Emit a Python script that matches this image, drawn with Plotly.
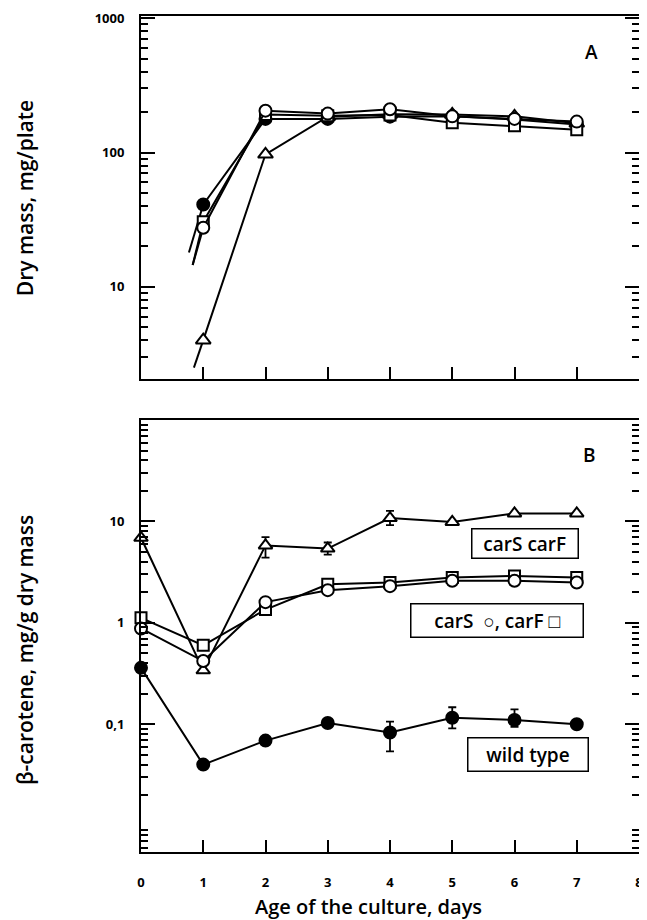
import plotly.graph_objects as go

# ---------------- data ----------------
days_A = [1, 2, 3, 4, 5, 6, 7]
wt_A = [41, 178, 178, 185, 186, 176, 162]
carS_A = [27.5, 205, 195, 210, 186, 178, 170]
carF_A = [30.5, 192, 188, 190, 167, 158, 148]
carSF_A = [4.0, 97, 185, 193, 192, 186, 165]
# short line stubs leaving the day-1 points towards day 0
stub_x = {"wt": 0.77, "carS": 0.83, "carF": 0.83, "carSF": 0.85}
stub_y = {"wt": 18, "carS": 14.5, "carF": 14.5, "carSF": 2.5}

days_B = [0, 1, 2, 3, 4, 5, 6, 7]
wt_B = [0.36, 0.040, 0.069, 0.103, 0.083, 0.116, 0.110, 0.100]
wt_B_plus = [0, 0, 0, 0, 0.023, 0.031, 0.030, 0]
wt_B_minus = [0, 0, 0, 0, 0.029, 0.025, 0.016, 0]
carS_B = [0.88, 0.42, 1.6, 2.1, 2.3, 2.6, 2.6, 2.5]
carF_B = [1.12, 0.60, 1.35, 2.4, 2.5, 2.8, 2.9, 2.8]
carSF_B = [6.9, 0.34, 5.8, 5.4, 10.8, 9.9, 12.0, 12.0]
carSF_B_plus = [0, 0, 1.2, 0.8, 1.9, 0, 0, 0]
carSF_B_minus = [0, 0, 1.4, 0.7, 1.6, 0, 0, 0]

x_ticks = [0, 1, 2, 3, 4, 5, 6, 7, 8]
x_ticktext = ["0", "1", "2", "3", "4", "5", "6", "7", "8"]
yA_ticks = [10, 100, 1000]
yA_ticktext = ["10", "100", "1000"]
yB_ticks = [0.1, 1, 10]
yB_ticktext = ["0,1", "1", "10"]

FONT = "Open Sans"
BLACK = "black"

fig = go.Figure()

def add_series(x, y, xa, ya, symbol, filled, size, err_p=None, err_m=None):
    kw = {}
    if err_p is not None:
        kw["error_y"] = dict(type="data", symmetric=False, array=err_p, arrayminus=err_m,
                             color=BLACK, thickness=1.8, width=4)
    fig.add_trace(go.Scatter(
        x=x, y=y, xaxis=xa, yaxis=ya, mode="lines+markers",
        line=dict(color=BLACK, width=2),
        marker=dict(symbol=symbol, size=size, color=BLACK if filled else "white",
                    line=dict(color=BLACK, width=2)),
        showlegend=False, cliponaxis=False, **kw))

def add_stub(key, y1, xa, ya):
    fig.add_trace(go.Scatter(
        x=[stub_x[key], 1], y=[stub_y[key], y1], xaxis=xa, yaxis=ya, mode="lines",
        line=dict(color=BLACK, width=2), showlegend=False))

# Panel A
add_stub("carSF", carSF_A[0], "x", "y")
add_stub("wt", wt_A[0], "x", "y")
add_stub("carS", carS_A[0], "x", "y")
add_stub("carF", carF_A[0], "x", "y")
add_series(days_A, carSF_A, "x", "y", "triangle-up", False, 13)
add_series(days_A, wt_A, "x", "y", "circle", True, 12)
add_series(days_A, carF_A, "x", "y", "square", False, 11)
add_series(days_A, carS_A, "x", "y", "circle", False, 12)

# Panel B
add_series(days_B, wt_B, "x2", "y2", "circle", True, 12, wt_B_plus, wt_B_minus)
add_series(days_B, carSF_B, "x2", "y2", "triangle-up", False, 12, carSF_B_plus, carSF_B_minus)
add_series(days_B, carF_B, "x2", "y2", "square", False, 11)
add_series(days_B, carS_B, "x2", "y2", "circle", False, 12)

minorA = [m * 10 ** e for e in range(0, 3) for m in range(2, 10)]
minorB = [m * 10 ** e for e in range(-3, 2) for m in range(2, 10)]

tickfont = dict(family=FONT, size=13, color=BLACK, weight="bold")
xax = dict(range=[0, 8], tickvals=x_ticks, ticktext=x_ticktext, ticks="inside", ticklen=12,
           tickwidth=2, tickcolor=BLACK, showline=True, linecolor=BLACK, linewidth=2,
           mirror=True, showgrid=False, zeroline=False, automargin=False)
yax = dict(type="log", ticks="inside", ticklen=14, tickwidth=2, tickcolor=BLACK,
           showline=True, linecolor=BLACK, linewidth=2, mirror="allticks",
           showgrid=False, zeroline=False, ticklabelstandoff=12, automargin=False,
           tickfont=tickfont)

# the page body adds an 8 px offset, so the figure is sized to fit the window
fig.update_layout(
    template="none",
    width=639, height=912,
    margin=dict(l=133, r=8, t=8, b=68, autoexpand=False),
    paper_bgcolor="white", plot_bgcolor="white",
    xaxis=dict(xax, domain=[0, 1], anchor="y", showticklabels=False),
    yaxis=dict(yax, domain=[0.5658, 1], anchor="x", range=[0.313, 3.017],
               tickvals=yA_ticks, ticktext=yA_ticktext,
               minor=dict(tickvals=minorA, ticks="inside", ticklen=7, tickwidth=1.5,
                          tickcolor=BLACK, showgrid=False)),
    xaxis2=dict(xax, domain=[0, 1], anchor="y2", showticklabels=True,
                ticklabelstandoff=17, ticklabeloverflow="allow", tickfont=tickfont),
    yaxis2=dict(yax, domain=[0, 0.5167], anchor="x2", range=[-2.26, 2.0],
                tickvals=yB_ticks, ticktext=yB_ticktext,
                minor=dict(tickvals=minorB, ticks="inside", ticklen=7, tickwidth=1.5,
                           tickcolor=BLACK, showgrid=False)),
)

NB = "\u00a0"
bf = dict(family=FONT, size=19, color=BLACK, weight=600)
ann = [
    dict(text="A", x=0.9056, y=0.957, borderpad=1),
    dict(text="B", x=0.9016, y=0.4749, borderpad=1),
    dict(text=NB * 2 + "carS carF" + NB * 2, x=0.771, y=0.3696,
         bordercolor=BLACK, borderwidth=1.5, borderpad=1),
    dict(text=NB * 4 + "carS  \u25cb, carF \u25a1" + NB * 4, x=0.7139, y=0.2769,
         bordercolor=BLACK, borderwidth=1.5, borderpad=3),
    dict(text=NB * 3 + "wild type" + NB * 3, x=0.7766, y=0.1166,
         bordercolor=BLACK, borderwidth=1.5, borderpad=3),
]
for a in ann:
    fig.add_annotation(xref="paper", yref="paper", showarrow=False,
                       xanchor="center", yanchor="middle", font=bf, bgcolor="white", **a)

tf = dict(family=FONT, size=21, color=BLACK, weight=600)
fig.add_annotation(xref="paper", yref="paper", x=-0.233, y=0.782, text="Dry mass, mg/plate",
                   textangle=-90, showarrow=False, xanchor="center", yanchor="middle", font=tf)
fig.add_annotation(xref="paper", yref="paper", x=-0.233, y=0.2416,
                   text="\u03b2-carotene, mg/g dry mass",
                   textangle=-90, showarrow=False, xanchor="center", yanchor="middle", font=tf)
fig.add_annotation(xref="paper", yref="paper", x=0.456, y=-0.0646,
                   text="Age of the culture, days", showarrow=False, borderpad=0,
                   xanchor="center", yanchor="middle",
                   font=dict(family=FONT, size=20, color=BLACK, weight=600))

fig.write_html("out.html")
